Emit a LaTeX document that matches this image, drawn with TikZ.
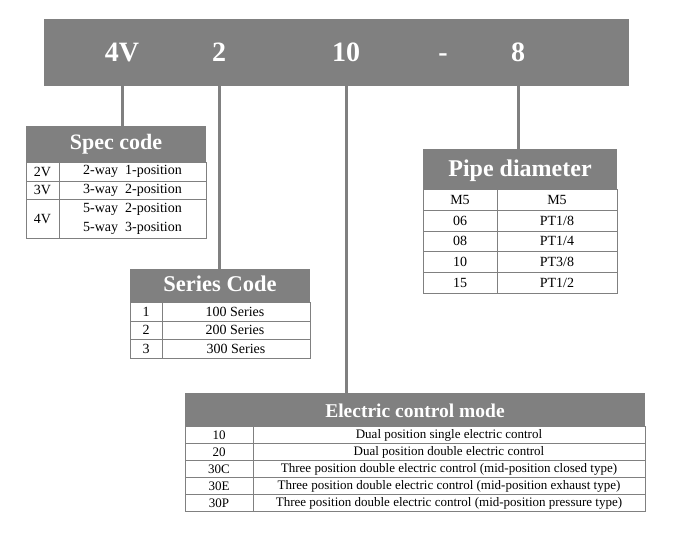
\documentclass[tikz,border=0pt]{standalone}
\usepackage{fontspec}
\setmainfont{Liberation Serif}
\definecolor{hgray}{HTML}{808080}
\tikzset{
  bar/.style={fill=hgray,draw=none,inner sep=0pt},
  bartext/.style={text=white,font=\fontsize{28}{32}\selectfont\bfseries,inner sep=0pt,anchor=base},
  head/.style={fill=hgray,draw=none,inner sep=0pt},
  headtext/.style={text=white,inner sep=0pt,anchor=base},
  cellline/.style={draw=hgray,line width=1pt},
  conn/.style={draw=hgray,line width=3pt},
  cell/.style={inner sep=0pt,text=black,font=\fontsize{14}{16}\selectfont},
  ecell/.style={inner sep=0pt,text=black,font=\fontsize{13}{15}\selectfont},
}
\begin{document}
\begin{tikzpicture}[x=1pt,y=-1pt]
\useasboundingbox (0,0) rectangle (680,552);
% top bar
\node[bar,minimum width=585pt,minimum height=67pt,anchor=north west] (topbar) at (44,19) {};
\node[bartext] (t4V) at (122,61) {4V};
\node[bartext] (t2) at (219,61) {2};
\node[bartext] (t10) at (346,61) {10};
\node[bartext] (tdash) at (443,61) {-};
\node[bartext] (t8) at (518,61) {8};

% Spec code table
\node[head,minimum width=180pt,minimum height=36pt,anchor=north west] (spechead) at (26,126) {};
\node[headtext,font=\fontsize{22}{25}\selectfont\bfseries] (spectitle) at (116,149) {Spec code};
\draw[cellline] (26,162) rectangle (206,238);
\draw[cellline] (26,181) -- (206,181);
\draw[cellline] (26,199) -- (206,199);
\draw[cellline] (59,162) -- (59,238);
\node[cell] (s1a) at (42.5,171.5) {2V};
\node[cell] (s1b) at (132.5,171.5) {2-way\ \ 1-position};
\node[cell] (s2a) at (42.5,190) {3V};
\node[cell] (s2b) at (132.5,190) {3-way\ \ 2-position};
\node[cell] (s3a) at (42.5,218.5) {4V};
\node[cell] (s3b) at (132.5,209) {5-way\ \ 2-position};
\node[cell] (s3c) at (132.5,228) {5-way\ \ 3-position};

% Series code table
\node[head,minimum width=180pt,minimum height=33pt,anchor=north west] (serhead) at (130,269) {};
\node[headtext,font=\fontsize{22.5}{26}\selectfont\bfseries] (sertitle) at (220,291.5) {Series Code};
\draw[cellline] (130,302) rectangle (310,358);
\draw[cellline] (130,321) -- (310,321);
\draw[cellline] (130,339) -- (310,339);
\draw[cellline] (162,302) -- (162,358);
\node[cell] (r1a) at (146,311.5) {1};
\node[cell] (r1b) at (235,311.5) {100 Series};
\node[cell] (r2a) at (146,330) {2};
\node[cell] (r2b) at (235,330) {200 Series};
\node[cell] (r3a) at (146,348.5) {3};
\node[cell] (r3b) at (236,348.5) {300 Series};

% Pipe diameter table
\node[head,minimum width=194pt,minimum height=40pt,anchor=north west] (pipehead) at (423,149) {};
\node[headtext,font=\fontsize{24}{28}\selectfont\bfseries] (pipetitle) at (520,176.5) {Pipe diameter};
\draw[cellline] (423,189) rectangle (617,293);
\draw[cellline] (423,210) -- (617,210);
\draw[cellline] (423,231) -- (617,231);
\draw[cellline] (423,251) -- (617,251);
\draw[cellline] (423,272) -- (617,272);
\draw[cellline] (497,189) -- (497,293);
\node[cell] (p1a) at (460,199.5) {M5};
\node[cell] (p1b) at (557,199.5) {M5};
\node[cell] (p2a) at (460,220.5) {06};
\node[cell] (p2b) at (557,220.5) {PT1/8};
\node[cell] (p3a) at (460,241) {08};
\node[cell] (p3b) at (557,241) {PT1/4};
\node[cell] (p4a) at (460,261.5) {10};
\node[cell] (p4b) at (557,261.5) {PT3/8};
\node[cell] (p5a) at (460,282.5) {15};
\node[cell] (p5b) at (557,282.5) {PT1/2};

% Electric control mode table
\node[head,minimum width=460pt,minimum height=33pt,anchor=north west] (elhead) at (185,393) {};
\node[headtext,font=\fontsize{19.5}{22}\selectfont\bfseries] (eltitle) at (415,417) {Electric control mode};
\draw[cellline] (185,426) rectangle (645,511);
\draw[cellline] (185,443) -- (645,443);
\draw[cellline] (185,460) -- (645,460);
\draw[cellline] (185,477) -- (645,477);
\draw[cellline] (185,494) -- (645,494);
\draw[cellline] (253,426) -- (253,511);
\node[ecell] (e1a) at (219,435) {10};
\node[ecell] (e1b) at (449,435) {Dual position single electric control};
\node[ecell] (e2a) at (219,452) {20};
\node[ecell] (e2b) at (449,452) {Dual position double electric control};
\node[ecell] (e3a) at (219,469) {30C};
\node[ecell] (e3b) at (449,469) {Three position double electric control (mid-position closed type)};
\node[ecell] (e4a) at (219,486) {30E};
\node[ecell] (e4b) at (449,486) {Three position double electric control (mid-position exhaust type)};
\node[ecell] (e5a) at (219,503) {30P};
\node[ecell] (e5b) at (449,503) {Three position double electric control (mid-position pressure type)};

% connectors
\draw[conn] (t4V.center |- topbar.south) -- (t4V.center |- spechead.north);
\draw[conn] (t2.center |- topbar.south) -- (t2.center |- serhead.north);
\draw[conn] (t10.center |- topbar.south) -- (t10.center |- elhead.north);
\draw[conn] (t8.center |- topbar.south) -- (t8.center |- pipehead.north);
\end{tikzpicture}
\end{document}
